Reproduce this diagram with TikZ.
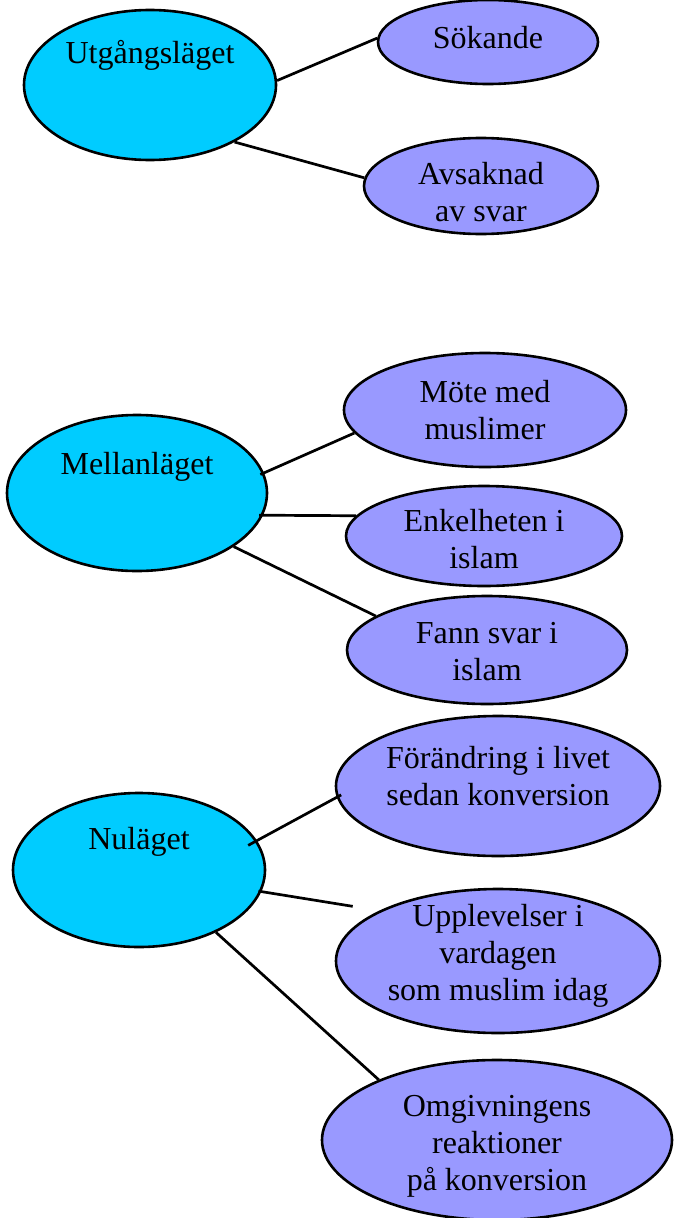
\documentclass[tikz,border=0pt]{standalone}
\usepackage{fontspec}
\setmainfont{Liberation Serif}
\usetikzlibrary{shapes.geometric}
\definecolor{headfill}{HTML}{00CCFF}
\definecolor{subfill}{HTML}{9999FF}
\tikzset{
  base/.style={ellipse, draw=black, line width=2.6pt, inner sep=0pt},
  head/.style={base, fill=headfill},
  sub/.style={base, fill=subfill},
  txt/.style={font=\fontsize{32}{37}\selectfont, align=center, inner sep=0pt, text=black},
  link/.style={line width=2.7pt, draw=black}
}
\begin{document}
\begin{tikzpicture}[x=1pt,y=-1pt]
\useasboundingbox (0,0) rectangle (675,1218);
% Utgangslaget
\node[head, minimum width=252pt, minimum height=150pt] (u) at (150,85) {};
\node[txt] (ut) at (150,55) {Utgångsläget};
\node[sub, minimum width=220pt, minimum height=84pt] (s) at (488,42) {};
\node[txt] (st) at (488,38) {Sökande};
\node[sub, minimum width=234pt, minimum height=96pt] (a) at (481,186) {};
\node[txt] (at) at (481,192) {Avsaknad\\av svar};
% Mellanlaget
\node[head, minimum width=260pt, minimum height=156pt] (m) at (137,493) {};
\node[txt] (mt) at (137,467) {Mellanläget};
\node[sub, minimum width=282pt, minimum height=114pt] (mo) at (485,410) {};
\node[txt] (mot) at (485,410) {Möte med\\muslimer};
\node[sub, minimum width=276pt, minimum height=100pt] (en) at (484,536) {};
\node[txt] (ent) at (484,539) {Enkelheten i\\islam};
\node[sub, minimum width=280pt, minimum height=108pt] (fa) at (487,650) {};
\node[txt] (fat) at (487,652) {Fann svar i\\islam};
% Nulaget
\node[head, minimum width=252pt, minimum height=154pt] (n) at (139,870) {};
\node[txt] (nt) at (139,842) {Nuläget};
\node[sub, minimum width=324pt, minimum height=140pt] (fo) at (498,786) {};
\node[txt] (fot) at (498,776.5) {Förändring i livet\\sedan konversion};
\node[sub, minimum width=324pt, minimum height=144pt] (up) at (498,961) {};
\node[txt] (upt) at (498,956) {Upplevelser i\\vardagen\\som muslim idag};
\node[sub, minimum width=350pt, minimum height=160pt] (om) at (497,1140) {};
\node[txt] (omt) at (497,1146) {Omgivningens\\reaktioner\\på konversion};
% connectors
\draw[link] (u.2) -- (s.178);
\draw[link] (u.-34) -- (a.176);
\draw[link, shorten <=-4pt] (m.9) -- (mo.190);
\draw[link, shorten <=-4pt] (m.-10.5) -- (en.171.7);
\draw[link] (m.-29) -- (fa.163);
\draw[link, shorten <=-10pt, shorten >=-5pt] (n.14) -- (fo.184);
\draw[link, shorten <=-3pt, shorten >=27pt] (n.-10.4) -- (up.157);
\draw[link] (n.-39) -- (om.153);
\end{tikzpicture}
\end{document}
